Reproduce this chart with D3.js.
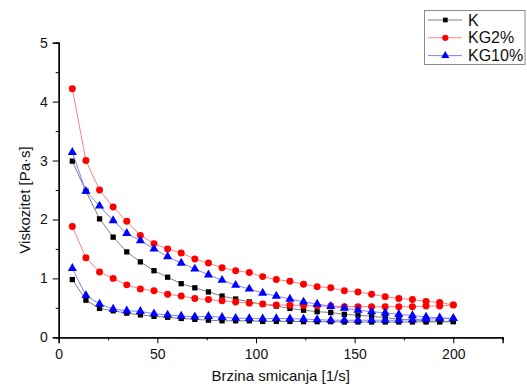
<!DOCTYPE html>
<html>
<head>
<meta charset="utf-8">
<script src="https://cdn.jsdelivr.net/npm/d3@7"></script>
<style>
  html, body { margin: 0; padding: 0; background: #fff; }
  svg { display: block; font-family: "Liberation Sans", Arial, sans-serif; }
</style>
</head>
<body>
<svg id="chart" width="527" height="386"></svg>
<script>
// Shear rate [1/s]
const shearRate = [6.9, 13.8, 20.7, 27.6, 34.5, 41.4, 48.3, 55.2, 62.1, 69.0,
  75.9, 82.8, 89.7, 96.6, 103.4, 110.3, 117.2, 124.1, 131.0, 137.9,
  144.8, 151.7, 158.6, 165.5, 172.4, 179.3, 186.2, 193.1, 200.0];

// Viscosity [Pa·s], rising and falling shear ramp for each sample
const kUp = [2.99, 2.48, 2.01, 1.70, 1.45, 1.28, 1.13, 1.02, 0.91, 0.84,
  0.77, 0.70, 0.65, 0.60, 0.56, 0.53, 0.49, 0.46, 0.435, 0.42,
  0.39, 0.375, 0.355, 0.335, 0.31, 0.295, 0.28, 0.27, 0.27];
const kDown = [0.98, 0.63, 0.49, 0.45, 0.41, 0.38, 0.355, 0.34, 0.32, 0.305,
  0.29, 0.28, 0.28, 0.28, 0.27, 0.27, 0.27, 0.265, 0.265, 0.265,
  0.26, 0.26, 0.26, 0.26, 0.26, 0.26, 0.26, 0.26, 0.265];
const kg2Up = [4.22, 3.00, 2.50, 2.21, 1.97, 1.73, 1.59, 1.50, 1.43, 1.33,
  1.26, 1.18, 1.13, 1.10, 1.03, 0.98, 0.95, 0.90, 0.86, 0.84,
  0.79, 0.77, 0.73, 0.69, 0.66, 0.64, 0.61, 0.59, 0.55];
const kg2Down = [1.88, 1.35, 1.11, 1.00, 0.89, 0.82, 0.79, 0.73, 0.70, 0.66,
  0.64, 0.62, 0.60, 0.58, 0.565, 0.55, 0.545, 0.54, 0.53, 0.53,
  0.52, 0.52, 0.52, 0.52, 0.52, 0.52, 0.53, 0.53, 0.55];
const kg10Up = [3.14, 2.48, 2.23, 1.98, 1.765, 1.64, 1.50, 1.37, 1.26, 1.16,
  1.06, 0.97, 0.885, 0.82, 0.75, 0.70, 0.65, 0.60, 0.565, 0.525,
  0.495, 0.46, 0.435, 0.415, 0.39, 0.37, 0.345, 0.33, 0.32];
const kg10Down = [1.17, 0.71, 0.565, 0.48, 0.45, 0.44, 0.40, 0.38, 0.36, 0.35,
  0.355, 0.34, 0.325, 0.32, 0.315, 0.32, 0.315, 0.31, 0.30, 0.29,
  0.29, 0.29, 0.29, 0.29, 0.29, 0.30, 0.31, 0.315, 0.32];

const seriesNames = ["K", "KG2%", "KG10%"];
const xTickValues = [0, 50, 100, 150, 200];
const yTickValues = [0, 1, 2, 3, 4, 5];
const xTitle = "Brzina smicanja [1/s]";
const yTitle = "Viskozitet [Pa·s]";

const series = [
  { name: seriesNames[0], curves: [kUp, kDown], line: "#808080", fill: "#000000", symbol: d3.symbolSquare, size: 28 },
  { name: seriesNames[1], curves: [kg2Up, kg2Down], line: "#ff8080", fill: "#ff0000", symbol: d3.symbolCircle, size: 38 },
  { name: seriesNames[2], curves: [kg10Up, kg10Down], line: "#8080ff", fill: "#0000ff", symbol: d3.symbolTriangle, size: 36 }
];

const svg = d3.select("#chart");
const x = d3.scaleLinear().domain([0, 225]).range([58.7, 502.6]);
const y = d3.scaleLinear().domain([0, 5]).range([337.3, 42.7]);

// Axes: major ticks labelled, minor ticks halfway between
const axisColor = "#000";
const xAxis = svg.append("g").attr("transform", `translate(0,${y(0)})`);
xAxis.call(d3.axisBottom(x).tickValues(d3.range(25, 226, 50)).tickSize(3).tickFormat(""));
xAxis.call(g => g.append("g").call(d3.axisBottom(x).tickValues(xTickValues).tickSize(6).tickPadding(6).tickFormat(d3.format("d"))));
const yAxis = svg.append("g").attr("transform", `translate(${x(0)},0)`);
yAxis.call(d3.axisLeft(y).tickValues(d3.range(0.5, 5, 1)).tickSize(3).tickFormat(""));
yAxis.call(g => g.append("g").call(d3.axisLeft(y).tickValues(yTickValues).tickSize(6).tickPadding(5).tickFormat(d3.format("d"))));

svg.selectAll(".domain").attr("stroke", axisColor).attr("stroke-width", 1.3);
svg.selectAll(".tick line").attr("stroke", axisColor).attr("stroke-width", 1);
svg.selectAll(".tick text").attr("font-size", 14).attr("fill", "#111")
  .attr("font-family", "Liberation Sans, Arial, sans-serif");

// Axis titles
svg.append("text")
  .attr("x", (x(0) + x(225)) / 2).attr("y", 381)
  .attr("text-anchor", "middle").attr("font-size", 15).attr("fill", "#111")
  .text(xTitle);
svg.append("text")
  .attr("transform", `translate(30,${(y(0) + y(5)) / 2 + 10}) rotate(-90)`)
  .attr("text-anchor", "middle").attr("font-size", 15).attr("fill", "#111")
  .text(yTitle);

// Curves and markers
const line = d3.line().x((d, i) => x(shearRate[i])).y(d => y(d));
series.forEach(s => {
  const g = svg.append("g");
  s.curves.forEach(vals => {
    g.append("path").datum(vals)
      .attr("fill", "none").attr("stroke", s.line).attr("stroke-width", 1)
      .attr("d", line);
  });
  s.curves.forEach(vals => {
    g.selectAll(null).data(vals).join("path")
      .attr("transform", (d, i) => `translate(${x(shearRate[i])},${y(d)})`)
      .attr("d", d3.symbol(s.symbol, s.size))
      .attr("fill", s.fill);
  });
});

// Legend
const legend = svg.append("g");
legend.append("rect").attr("x", 424.5).attr("y", 10.5).attr("width", 100.5).attr("height", 54)
  .attr("fill", "#fff").attr("stroke", "#8c8c8c").attr("stroke-width", 1);
series.forEach((s, i) => {
  const cy = 20 + i * 17.8;
  legend.append("line").attr("x1", 428).attr("x2", 462).attr("y1", cy).attr("y2", cy)
    .attr("stroke", s.line).attr("stroke-width", 1);
  legend.append("path").attr("transform", `translate(445.3,${cy})`)
    .attr("d", d3.symbol(s.symbol, s.size * 0.8)).attr("fill", s.fill);
  legend.append("text").attr("x", 468).attr("y", cy + 5.5)
    .attr("font-size", 16).attr("fill", "#111").text(s.name);
});
</script>
</body>
</html>
